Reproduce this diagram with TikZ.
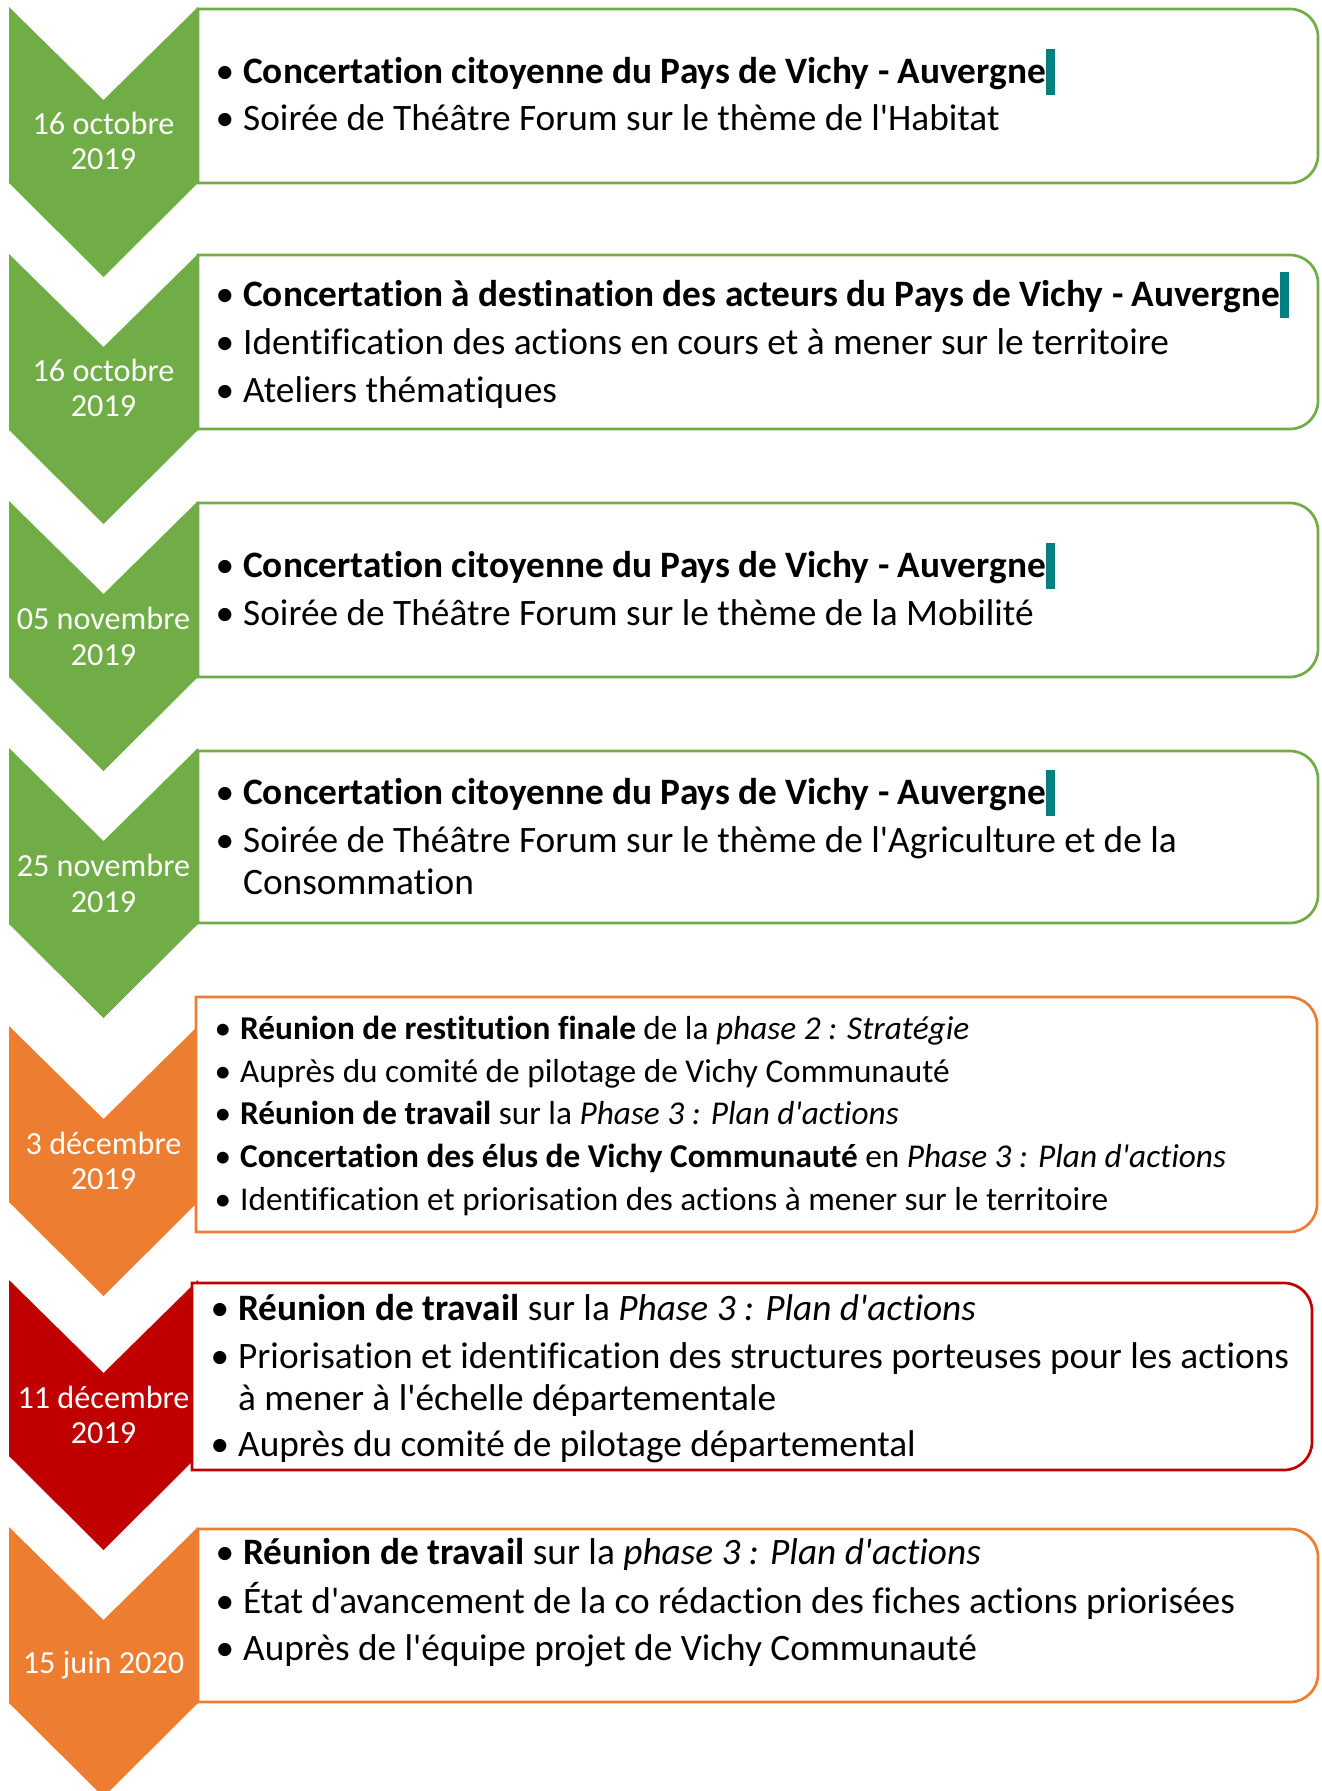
\documentclass[tikz,border=0pt]{standalone}
\usepackage{fontspec}
\setmainfont{Carlito}
\newfontfamily\calfont{Carlito}[Ligatures=NoCommon]
\definecolor{cgreen}{HTML}{70AD47}
\definecolor{corange}{HTML}{ED7D31}
\definecolor{cred}{HTML}{C00000}
\definecolor{cteal}{HTML}{008080}
\newcommand\bul{\llap{•\hspace{9pt}}}
\newcommand\cur{\textcolor{cteal}{\rule[-11pt]{9pt}{46pt}}}
\tikzset{
  body/.style={anchor=base west, inner sep=0pt, yshift=-1.5pt, font=\calfont\fontsize{37.3}{44}\selectfont},
  small/.style={anchor=base west, inner sep=0pt, yshift=-1pt, font=\calfont\fontsize{33.3}{40}\selectfont},
  datetxt/.style={anchor=base, inner sep=0pt, yshift=-1pt, text=white, font=\calfont\fontsize{32.2}{36}\selectfont},
  chev/.style={fill=#1, draw=none},
  listbox/.style={draw=#1, fill=white, line width=2.7pt},
}
\newcommand\chevron[2]{% color, top
  \path[chev=#1] (9,#2) -- (103.5,#2+93) -- (198,#2) -- (198,#2+176) -- (103.5,#2+270) -- (9,#2+176) -- cycle;}
\newcommand\lbox[5]{% color, L, T, R, B
  \path[listbox=#1] (#2,#5) -- (#2,#3) [rounded corners=28pt] -- (#4,#3) -- (#4,#5) [sharp corners] -- cycle;}
\begin{document}
\begin{tikzpicture}[x=1pt,y=-1pt]
\useasboundingbox (0,0) rectangle (1322,1791);
\clip (0,0) rectangle (1322,1791);
% chevrons
\chevron{cgreen}{7}
\chevron{cgreen}{254}
\chevron{cgreen}{501}
\chevron{cgreen}{748}
\chevron{corange}{1026}
\chevron{cred}{1280}
\chevron{corange}{1527}
% boxes
\lbox{cgreen}{198}{9}{1318}{183}
\lbox{cgreen}{198}{255}{1318}{429}
\lbox{cgreen}{198}{503}{1318}{677}
\lbox{cgreen}{198}{751}{1318}{923}
\lbox{corange}{196}{997}{1317}{1232}
\lbox{cred}{192}{1283}{1312}{1470}
\lbox{corange}{198}{1529}{1318}{1702}
% dates
\node[datetxt] (d1a) at (103.5,133) {16 octobre};
\node[datetxt] (d1b) at (103.5,168) {2019};
\node[datetxt] (d2a) at (103.5,380) {16 octobre};
\node[datetxt] (d2b) at (103.5,415) {2019};
\node[datetxt] (d3a) at (103.5,628) {05 novembre};
\node[datetxt] (d3b) at (103.5,664) {2019};
\node[datetxt] (d4a) at (103.5,875) {25 novembre};
\node[datetxt] (d4b) at (103.5,911) {2019};
\node[datetxt] (d5a) at (103.5,1153) {3 décembre};
\node[datetxt] (d5b) at (103.5,1188) {2019};
\node[datetxt] (d6a) at (103.5,1407) {11 décembre};
\node[datetxt] (d6b) at (103.5,1442) {2019};
\node[datetxt] (d7a) at (103.5,1672) {15 juin 2020};
% box 1
\node[body] (t1a) at (243,82) {\bul\textbf{Concertation citoyenne du Pays de Vichy - Auvergne}\cur};
\node[body] (t1b) at (243,129) {\bul Soirée de Théâtre Forum sur le thème de l'Habitat};
% box 2
\node[body] (t2a) at (243,305) {\bul\textbf{Concertation à destination des acteurs du Pays de Vichy - Auvergne}\cur};
\node[body] (t2b) at (243,353) {\bul Identification des actions en cours et à mener sur le territoire};
\node[body] (t2c) at (243,401) {\bul Ateliers thématiques};
% box 3
\node[body] (t3a) at (243,576) {\bul\textbf{Concertation citoyenne du Pays de Vichy - Auvergne}\cur};
\node[body] (t3b) at (243,624) {\bul Soirée de Théâtre Forum sur le thème de la Mobilité};
% box 4
\node[body] (t4a) at (243,803) {\bul\textbf{Concertation citoyenne du Pays de Vichy - Auvergne}\cur};
\node[body] (t4b) at (243,851) {\bul Soirée de Théâtre Forum sur le thème de l'Agriculture et de la};
\node[body] (t4c) at (243,893) {Consommation};
% box 5
\node[small] (t5a) at (240,1038) {\bul\textbf{Réunion de restitution finale} de la \textit{phase 2 : Stratégie}};
\node[small] (t5b) at (240,1081) {\bul Auprès du comité de pilotage de Vichy Communauté};
\node[small] (t5c) at (240,1123) {\bul\textbf{Réunion de travail} sur la \textit{Phase 3 : Plan d'actions}};
\node[small] (t5d) at (240,1166) {\bul\textbf{Concertation des élus de Vichy Communauté} en \textit{Phase 3 : Plan d'actions}};
\node[small] (t5e) at (240,1209) {\bul Identification et priorisation des actions à mener sur le territoire};
% box 6
\node[body] (t6a) at (238,1319) {\bul\textbf{Réunion de travail} sur la \textit{Phase 3 : Plan d'actions}};
\node[body] (t6b) at (238,1367) {\bul Priorisation et identification des structures porteuses pour les actions};
\node[body] (t6c) at (238,1409) {à mener à l'échelle départementale};
\node[body] (t6d) at (238,1455) {\bul Auprès du comité de pilotage départemental};
% box 7
\node[body] (t7a) at (243,1563) {\bul\textbf{Réunion de travail} sur la \textit{phase 3 : Plan d'actions}};
\node[body] (t7b) at (243,1612) {\bul État d'avancement de la co rédaction des fiches actions priorisées};
\node[body] (t7c) at (243,1659) {\bul Auprès de l'équipe projet de Vichy Communauté};
\end{tikzpicture}
\end{document}
